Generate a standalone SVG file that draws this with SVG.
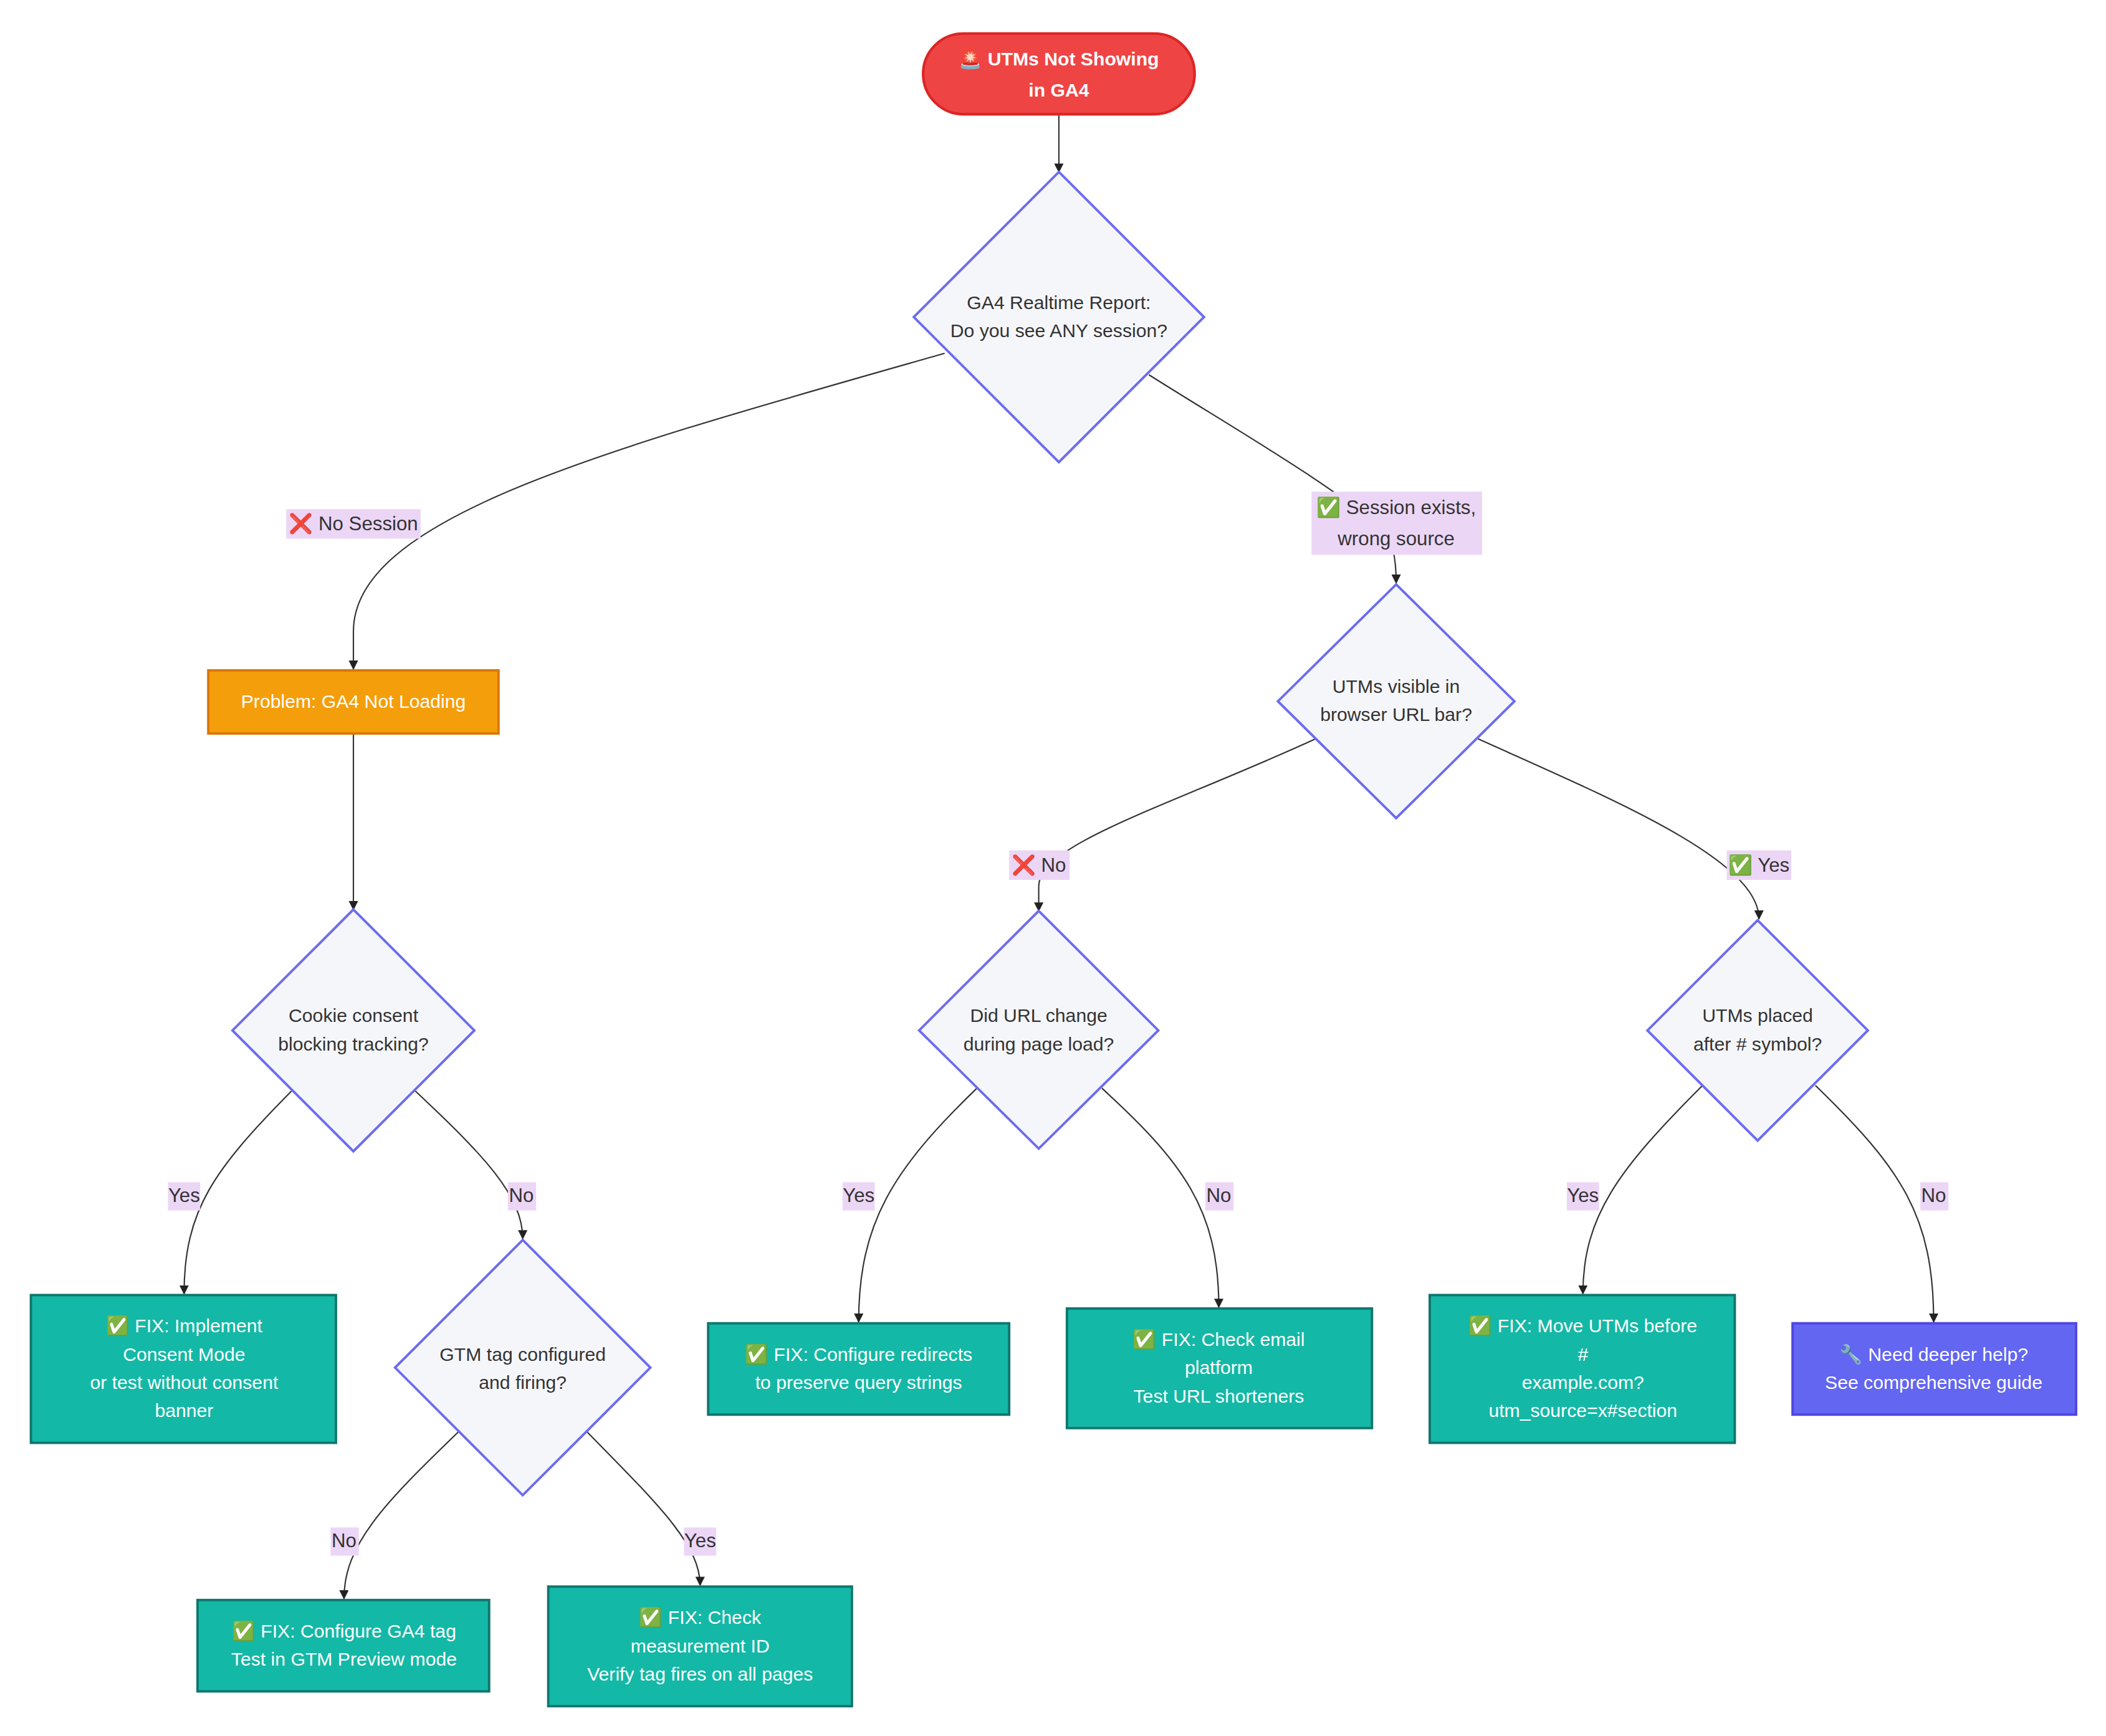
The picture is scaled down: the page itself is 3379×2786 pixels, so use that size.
<svg xmlns="http://www.w3.org/2000/svg" width="3379" height="2786" viewBox="0 0 3379 2786">
<defs>
<marker id="arr" viewBox="0 0 10 10" refX="9" refY="5" markerWidth="7" markerHeight="7" markerUnits="userSpaceOnUse" orient="auto"><path d="M0,0 L10,5 L0,10 z" fill="#222"/></marker>
<style>
text{font-family:"Liberation Sans","DejaVu Sans",sans-serif;font-size:14px;text-anchor:middle;dominant-baseline:central}
.dia{fill:#f5f6fa;stroke:#6b6bf0;stroke-width:1.8}
.dt{fill:#333}
.fix{fill:#14b8a6;stroke:#0f766e;stroke-width:1.8}
.wt{fill:#fff}
.lb{fill:#ecd6f6}
.lt{fill:#333;font-size:14.5px}
.e{fill:none;stroke:#333;stroke-width:1;marker-end:url(#arr)}
</style>
</defs>
<rect width="3379" height="2786" fill="#fff"/>
<g transform="scale(2.156)">
<g id="edges">
<path class="e" d="M788,85 L788,128"/>
<path class="e" d="M703,263 C450,335 263,385 263,470 L263,498"/>
<path class="e" d="M855,279 C920,320 990,360 1030,395 Q1039,405 1039,434"/>
<path class="e" d="M263,546 L263,677"/>
<path class="e" d="M979,550 C870,600 773,628 773,660 L773,678"/>
<path class="e" d="M1100,550 C1200,595 1309,640 1309,684"/>
<path class="e" d="M217,812 C160,870 137,900 137,963"/>
<path class="e" d="M309,812 C360,860 389,890 389,922"/>
<path class="e" d="M727,810 C665,870 639,910 639,984"/>
<path class="e" d="M820,810 C880,865 907,900 907,973"/>
<path class="e" d="M1267,808 C1205,870 1178,905 1178,963"/>
<path class="e" d="M1351,808 C1415,870 1439,905 1439,984"/>
<path class="e" d="M341,1066 C285,1120 256,1150 256,1190"/>
<path class="e" d="M437,1066 C490,1120 521,1150 521,1180"/>
</g>
<g id="edge-labels">
<rect class="lb" x="213" y="379" width="100" height="22"/><text class="lt" x="263" y="390">❌ No Session</text>
<rect class="lb" x="976" y="366" width="127" height="47"/><text class="lt" x="1039" y="378">✅ Session exists,</text><text class="lt" x="1039" y="401">wrong source</text>
<rect class="lb" x="751" y="633" width="45" height="22"/><text class="lt" x="773" y="644">❌ No</text>
<rect class="lb" x="1285" y="633" width="48" height="22"/><text class="lt" x="1309" y="644">✅ Yes</text>
<rect class="lb" x="125" y="880" width="24" height="21"/><text class="lt" x="137" y="890">Yes</text>
<rect class="lb" x="378" y="880" width="21" height="21"/><text class="lt" x="388" y="890">No</text>
<rect class="lb" x="627" y="880" width="24" height="21"/><text class="lt" x="639" y="890">Yes</text>
<rect class="lb" x="897" y="880" width="21" height="21"/><text class="lt" x="907" y="890">No</text>
<rect class="lb" x="1166" y="880" width="24" height="21"/><text class="lt" x="1178" y="890">Yes</text>
<rect class="lb" x="1429" y="880" width="21" height="21"/><text class="lt" x="1439" y="890">No</text>
<rect class="lb" x="246" y="1137" width="21" height="21"/><text class="lt" x="256" y="1147">No</text>
<rect class="lb" x="509" y="1137" width="24" height="21"/><text class="lt" x="521" y="1147">Yes</text>
</g>
<g id="start"><rect x="687" y="25" width="202" height="60" rx="30" fill="#ef4444" stroke="#dc2626" stroke-width="2"/><text class="wt" x="788" y="44" font-size="15.5" font-weight="bold">🚨 UTMs Not Showing</text><text class="wt" x="788" y="67" font-size="15.5" font-weight="bold">in GA4</text></g>
<g id="d1"><polygon class="dia" points="788,128 896,236 788,344 680,236"/><text class="dt" x="788" y="225">GA4 Realtime Report:</text><text class="dt" x="788" y="246">Do you see ANY session?</text></g>
<g id="problem"><rect x="155" y="499" width="216" height="47" fill="#f59e0b" stroke="#d97706" stroke-width="1.8"/><text class="wt" x="263" y="522">Problem: GA4 Not Loading</text></g>
<g id="d2"><polygon class="dia" points="1039,435 1127,522 1039,609 951,522"/><text class="dt" x="1039" y="511">UTMs visible in</text><text class="dt" x="1039" y="532">browser URL bar?</text></g>
<g id="d3"><polygon class="dia" points="263,677 353,767 263,857 173,767"/><text class="dt" x="263" y="756">Cookie consent</text><text class="dt" x="263" y="777">blocking tracking?</text></g>
<g id="d4"><polygon class="dia" points="773,678 862,767 773,855 684,767"/><text class="dt" x="773" y="756">Did URL change</text><text class="dt" x="773" y="777">during page load?</text></g>
<g id="d5"><polygon class="dia" points="1308,685 1390,767 1308,849 1226,767"/><text class="dt" x="1308" y="756">UTMs placed</text><text class="dt" x="1308" y="777">after # symbol?</text></g>
<g id="d6"><polygon class="dia" points="389,923 484,1018 389,1113 294,1018"/><text class="dt" x="389" y="1008">GTM tag configured</text><text class="dt" x="389" y="1029">and firing?</text></g>
<g id="fix1"><rect class="fix" x="23" y="964" width="227" height="110"/><text class="wt" x="137" y="987">✅ FIX: Implement</text><text class="wt" x="137" y="1008">Consent Mode</text><text class="wt" x="137" y="1029">or test without consent</text><text class="wt" x="137" y="1050">banner</text></g>
<g id="fix2"><rect class="fix" x="527" y="985" width="224" height="68"/><text class="wt" x="639" y="1008">✅ FIX: Configure redirects</text><text class="wt" x="639" y="1029">to preserve query strings</text></g>
<g id="fix3"><rect class="fix" x="794" y="974" width="227" height="89"/><text class="wt" x="907" y="997">✅ FIX: Check email</text><text class="wt" x="907" y="1018">platform</text><text class="wt" x="907" y="1039">Test URL shorteners</text></g>
<g id="fix4"><rect class="fix" x="1064" y="964" width="227" height="110"/><text class="wt" x="1178" y="987">✅ FIX: Move UTMs before</text><text class="wt" x="1178" y="1008">#</text><text class="wt" x="1178" y="1029">example.com?</text><text class="wt" x="1178" y="1050">utm_source=x#section</text></g>
<g id="help"><rect x="1334" y="985" width="211" height="68" fill="#6366f1" stroke="#4f46e5" stroke-width="1.8"/><text class="wt" x="1439" y="1008">🔧 Need deeper help?</text><text class="wt" x="1439" y="1029">See comprehensive guide</text></g>
<g id="fix5"><rect class="fix" x="147" y="1191" width="217" height="68"/><text class="wt" x="256" y="1214">✅ FIX: Configure GA4 tag</text><text class="wt" x="256" y="1235">Test in GTM Preview mode</text></g>
<g id="fix6"><rect class="fix" x="408" y="1181" width="226" height="89"/><text class="wt" x="521" y="1204">✅ FIX: Check</text><text class="wt" x="521" y="1225">measurement ID</text><text class="wt" x="521" y="1246">Verify tag fires on all pages</text></g>
</g>
</svg>
